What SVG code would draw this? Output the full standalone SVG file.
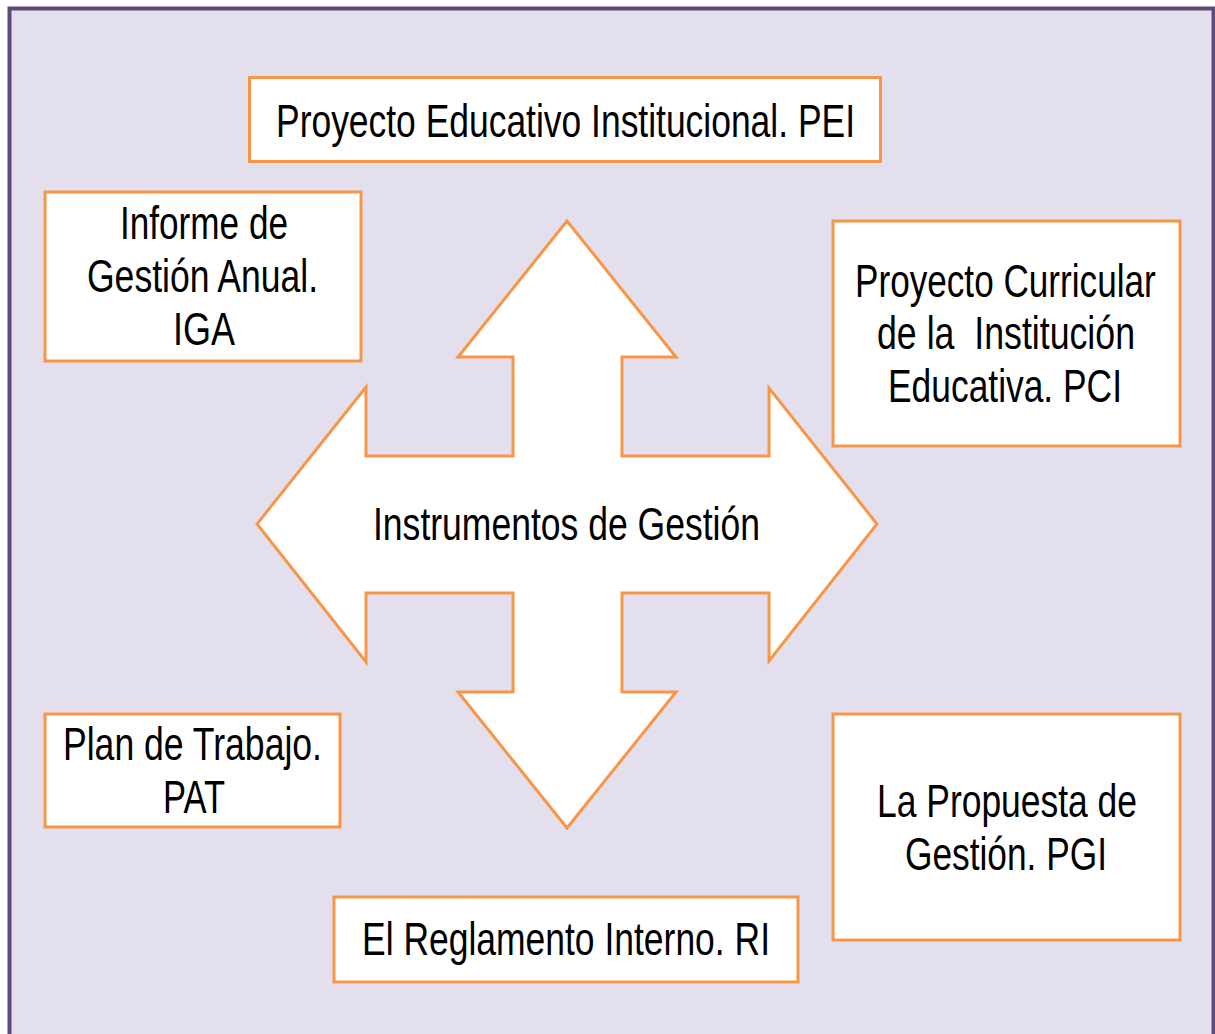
<svg xmlns="http://www.w3.org/2000/svg" width="1215" height="1034" viewBox="0 0 1215 1034">
<style>
.box{fill:#ffffff;stroke:#f79646;stroke-width:3}
.t{font-family:"Liberation Sans",Arial,sans-serif;font-size:46px;fill:#000000;white-space:pre}
</style>
<rect x="0" y="0" width="1215" height="1034" fill="#ffffff"/>
<rect id="frame" x="9.5" y="8.5" width="1204" height="1040" fill="#e4dfec" stroke="#604a7b" stroke-width="4"/>
<g id="connectors">
<path id="cross-arrow" class="box" d="M567,221 L676,357 L622,357 L622,456 L769,456 L769,388 L877,524 L769,661 L769,593 L622,593 L622,692 L676,692 L567,828 L458,692 L513,692 L513,593 L366,593 L366,662 L257,524 L366,387 L366,456 L513,456 L513,357 L458,357 Z"/>
</g>
<g id="center">
<text class="t" transform="matrix(0.75 0 0 1 373 540)" x="0" y="0" textLength="516" lengthAdjust="spacingAndGlyphs">Instrumentos de Gestión</text>
</g>
<g id="pei">
<rect class="box" x="249.5" y="77.5" width="631" height="84"/>
<text class="t" transform="matrix(0.75 0 0 1 276 137)" x="0" y="0" textLength="772" lengthAdjust="spacingAndGlyphs">Proyecto Educativo Institucional. PEI</text>
</g>
<g id="iga">
<rect class="box" x="45" y="192" width="316" height="169"/>
<text class="t" transform="matrix(0.75 0 0 1 120 239)" x="0" y="0" textLength="224" lengthAdjust="spacingAndGlyphs">Informe de</text>
<text class="t" transform="matrix(0.75 0 0 1 87 292)" x="0" y="0" textLength="308" lengthAdjust="spacingAndGlyphs">Gestión Anual.</text>
<text class="t" transform="matrix(0.75 0 0 1 173 345)" x="0" y="0" textLength="82.7" lengthAdjust="spacingAndGlyphs">IGA</text>
</g>
<g id="pci">
<rect class="box" x="833" y="221" width="347" height="225"/>
<text class="t" transform="matrix(0.75 0 0 1 855 297)" x="0" y="0" textLength="401" lengthAdjust="spacingAndGlyphs">Proyecto Curricular</text>
<text class="t" transform="matrix(0.75 0 0 1 877 349)" x="0" y="0" textLength="344" lengthAdjust="spacingAndGlyphs" xml:space="preserve">de la  Institución</text>
<text class="t" transform="matrix(0.75 0 0 1 888 402)" x="0" y="0" textLength="312" lengthAdjust="spacingAndGlyphs">Educativa. PCI</text>
</g>
<g id="pat">
<rect class="box" x="45" y="714" width="295" height="113"/>
<text class="t" transform="matrix(0.75 0 0 1 63 760)" x="0" y="0" textLength="345.3" lengthAdjust="spacingAndGlyphs">Plan de Trabajo.</text>
<text class="t" transform="matrix(0.75 0 0 1 163 813)" x="0" y="0" textLength="82.7" lengthAdjust="spacingAndGlyphs">PAT</text>
</g>
<g id="pgi">
<rect class="box" x="833" y="714" width="347" height="226"/>
<text class="t" transform="matrix(0.75 0 0 1 877 817)" x="0" y="0" textLength="346.7" lengthAdjust="spacingAndGlyphs">La Propuesta de</text>
<text class="t" transform="matrix(0.75 0 0 1 905 870)" x="0" y="0" textLength="269.3" lengthAdjust="spacingAndGlyphs">Gestión. PGI</text>
</g>
<g id="ri">
<rect class="box" x="334" y="897" width="464" height="85"/>
<text class="t" transform="matrix(0.75 0 0 1 362 955)" x="0" y="0" textLength="544" lengthAdjust="spacingAndGlyphs">El Reglamento Interno. RI</text>
</g>
</svg>
